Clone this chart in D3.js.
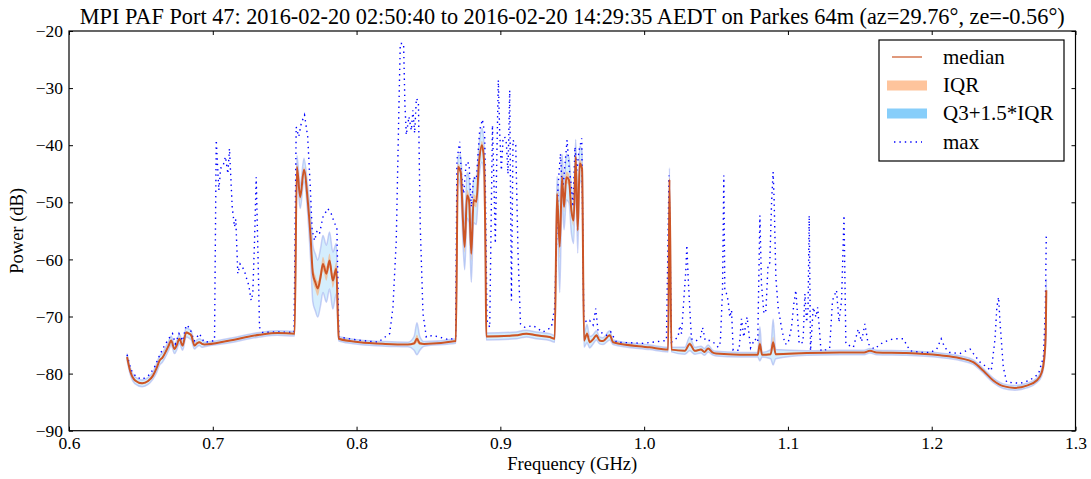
<!DOCTYPE html>
<html>
<head>
<meta charset="utf-8">
<script src="https://d3js.org/d3.v7.min.js"></script>
<style>
  body { margin: 0; background: #fff; }
  text { font-family: "Liberation Serif", "DejaVu Serif", serif; fill: #000; }
</style>
</head>
<body>
<svg id="chart" width="1091" height="479"></svg>
<script>
// ---- data ----
// median / IQR share one frequency grid (GHz)
var medFreq = [
  0.6404, 0.6425, 0.6460, 0.6509, 0.6550, 0.6583, 0.6610, 0.6630, 0.6650, 0.6676,
  0.6695, 0.6710, 0.6734, 0.6750, 0.6768, 0.6790, 0.6815, 0.6835, 0.6850, 0.6873,
  0.6890, 0.6907, 0.6925, 0.6942, 0.7100, 0.7325, 0.7450, 0.7569, 0.7585, 0.7608,
  0.7634, 0.7660, 0.7680, 0.7696, 0.7713, 0.7730, 0.7750, 0.7766, 0.7790, 0.7812,
  0.7835, 0.7859, 0.7870, 0.7876, 0.8021, 0.8200, 0.8357, 0.8400, 0.8420, 0.8440,
  0.8470, 0.8690, 0.8705, 0.8724, 0.8740, 0.8752, 0.8768, 0.8782, 0.8798, 0.8814,
  0.8833, 0.8851, 0.8872, 0.8886, 0.8897, 0.8902, 0.9111, 0.9150, 0.9181, 0.9250,
  0.9343, 0.9378, 0.9394, 0.9413, 0.9429, 0.9443, 0.9459, 0.9477, 0.9494, 0.9510,
  0.9524, 0.9538, 0.9552, 0.9568, 0.9582, 0.9603, 0.9621, 0.9645, 0.9668, 0.9690,
  0.9714, 0.9761, 0.9784, 1.0039, 1.0167, 1.0176, 1.0190, 1.0283, 1.0317, 1.0352,
  1.0395, 1.0420, 1.0445, 1.0475, 1.0500, 1.0666, 1.0790, 1.0805, 1.0820, 1.0880,
  1.0897, 1.0915, 1.1130, 1.1361, 1.1530, 1.1570, 1.1617, 1.1825, 1.2057, 1.2197,
  1.2289, 1.2359, 1.2428, 1.2498, 1.2579, 1.2661, 1.2730, 1.2765, 1.2781, 1.2793,
  1.2797
];
var median = [
  -77.1, -79.5, -81.2, -81.7, -81.3, -80.4, -79.0, -77.7, -77.2, -76.0,
  -75.0, -74.2, -75.7, -75.0, -73.9, -75.1, -72.8, -73.0, -73.3, -75.1,
  -74.7, -74.5, -74.8, -74.9, -74.3, -73.2, -72.9, -73.0, -43.8, -49.1,
  -44.3, -49.6, -56.0, -62.5, -64.0, -65.1, -63.0, -60.8, -62.5, -60.2,
  -63.7, -61.6, -70.0, -73.9, -74.5, -74.8, -74.9, -74.7, -73.9, -74.7,
  -74.8, -74.3, -43.8, -44.7, -53.2, -57.8, -48.8, -49.6, -59.0, -49.6,
  -49.9, -43.2, -40.0, -42.6, -60.0, -73.5, -73.3, -73.1, -73.0, -73.3,
  -73.6, -73.9, -48.5, -57.8, -45.6, -50.8, -45.6, -46.1, -51.4, -53.2,
  -42.0, -54.9, -43.2, -44.1, -74.2, -73.0, -74.5, -74.0, -73.3, -74.2,
  -74.3, -73.3, -74.5, -75.4, -75.8, -46.0, -75.8, -76.0, -74.8, -76.0,
  -75.8, -76.2, -75.6, -76.3, -76.5, -76.7, -76.7, -74.8, -76.7, -76.6,
  -74.5, -76.6, -76.4, -76.3, -76.3, -76.0, -76.3, -76.4, -76.8, -77.3,
  -78.0, -79.5, -81.2, -82.2, -82.5, -82.1, -81.2, -79.8, -77.7, -73.0,
  -65.4
];
// interquartile range (dB) at each grid point
var iqr = [
  0.3, 0.3, 0.3, 0.3, 0.3, 0.3, 0.4, 0.4, 0.4, 0.4,
  0.4, 0.4, 0.4, 0.4, 0.4, 0.4, 0.4, 0.4, 0.4, 0.3,
  0.3, 0.3, 0.3, 0.2, 0.2, 0.2, 0.2, 0.2, 1.0, 1.0,
  1.0, 1.2, 2.0, 2.5, 2.5, 2.5, 2.5, 2.5, 2.5, 2.5,
  2.5, 2.2, 1.0, 0.2, 0.2, 0.2, 0.2, 0.6, 1.4, 0.6,
  0.2, 0.2, 1.0, 1.5, 2.0, 2.0, 2.0, 2.0, 2.5, 2.0,
  2.0, 1.5, 1.5, 1.5, 1.0, 0.3, 0.3, 0.3, 0.3, 0.3,
  0.3, 0.3, 1.5, 4.0, 2.0, 2.0, 2.0, 2.0, 2.0, 2.0,
  1.5, 2.0, 1.5, 1.5, 0.6, 0.8, 0.5, 0.4, 0.4, 0.3,
  0.3, 0.4, 0.2, 0.2, 0.2, 1.0, 0.2, 0.3, 0.6, 0.3,
  0.3, 0.3, 0.3, 0.2, 0.2, 0.2, 0.2, 1.5, 0.2, 0.4,
  2.0, 0.4, 0.2, 0.2, 0.2, 0.2, 0.2, 0.2, 0.2, 0.2,
  0.2, 0.2, 0.2, 0.2, 0.2, 0.2, 0.2, 0.3, 0.4, 0.8,
  1.0
];
// maximum power (dB), own frequency grid
var maxFreq = [
  0.6404, 0.6430, 0.6467, 0.6510, 0.6560, 0.6594, 0.6630, 0.6660, 0.6690, 0.6720,
  0.6740, 0.6765, 0.6790, 0.6815, 0.6840, 0.6870, 0.6907, 0.6940, 0.6980, 0.7012,
  0.7024, 0.7042, 0.7055, 0.7070, 0.7088, 0.7105, 0.7116, 0.7135, 0.7151, 0.7160,
  0.7174, 0.7190, 0.7205, 0.7220, 0.7232, 0.7250, 0.7267, 0.7278, 0.7290, 0.7302,
  0.7315, 0.7325, 0.7348, 0.7450, 0.7565, 0.7571, 0.7580, 0.7598, 0.7615, 0.7638,
  0.7660, 0.7678, 0.7691, 0.7708, 0.7725, 0.7742, 0.7766, 0.7800, 0.7824, 0.7847,
  0.7863, 0.7877, 0.8000, 0.8150, 0.8230, 0.8253, 0.8276, 0.8295, 0.8304, 0.8327,
  0.8336, 0.8346, 0.8364, 0.8381, 0.8392, 0.8404, 0.8416, 0.8430, 0.8443, 0.8462,
  0.8485, 0.8531, 0.8647, 0.8689, 0.8698, 0.8717, 0.8729, 0.8745, 0.8763, 0.8782,
  0.8798, 0.8814, 0.8833, 0.8856, 0.8875, 0.8891, 0.8907, 0.8926, 0.8945, 0.8956,
  0.8965, 0.8975, 0.8986, 0.8995, 0.9007, 0.9018, 0.9030, 0.9042, 0.9053, 0.9065,
  0.9077, 0.9088, 0.9107, 0.9123, 0.9140, 0.9170, 0.9227, 0.9297, 0.9355, 0.9378,
  0.9401, 0.9418, 0.9432, 0.9448, 0.9464, 0.9478, 0.9494, 0.9505, 0.9519, 0.9533,
  0.9547, 0.9566, 0.9580, 0.9599, 0.9621, 0.9645, 0.9663, 0.9679, 0.9738, 0.9768,
  0.9807, 0.9993, 1.0155, 1.0173, 1.0190, 1.0236, 1.0248, 1.0260, 1.0271, 1.0290,
  1.0297, 1.0306, 1.0317, 1.0329, 1.0360, 1.0392, 1.0406, 1.0425, 1.0457, 1.0485,
  1.0515, 1.0530, 1.0545, 1.0554, 1.0561, 1.0573, 1.0584, 1.0596, 1.0608, 1.0619,
  1.0660, 1.0677, 1.0693, 1.0707, 1.0716, 1.0740, 1.0770, 1.0790, 1.0805, 1.0816,
  1.0833, 1.0847, 1.0862, 1.0874, 1.0886, 1.0897, 1.0904, 1.0916, 1.0932, 1.0955,
  1.0979, 1.1000, 1.1025, 1.1041, 1.1055, 1.1065, 1.1078, 1.1105, 1.1118, 1.1130,
  1.1140, 1.1148, 1.1157, 1.1176, 1.1195, 1.1207, 1.1230, 1.1265, 1.1290, 1.1310,
  1.1338, 1.1355, 1.1373, 1.1390, 1.1403, 1.1455, 1.1489, 1.1512, 1.1535, 1.1558,
  1.1600, 1.1663, 1.1733, 1.1802, 1.1849, 1.1920, 1.1990, 1.2035, 1.2066, 1.2090,
  1.2125, 1.2195, 1.2267, 1.2290, 1.2336, 1.2380, 1.2414, 1.2440, 1.2453, 1.2465,
  1.2475, 1.2498, 1.2521, 1.2614, 1.2680, 1.2742, 1.2777, 1.2790, 1.2797
];
var maxPower = [
  -76.7, -79.3, -80.6, -81.0, -80.2, -78.9, -76.8, -75.3, -74.0, -73.0,
  -74.8, -73.0, -74.3, -71.5, -72.0, -74.3, -73.0, -74.5, -74.4, -74.2,
  -39.1, -47.9, -44.0, -43.8, -42.0, -45.0, -40.6, -50.8, -54.3, -53.0,
  -62.5, -60.8, -61.3, -62.0, -63.1, -64.5, -67.2, -66.0, -57.0, -45.6,
  -60.0, -71.9, -72.8, -72.7, -72.8, -58.9, -36.8, -38.5, -36.2, -34.7,
  -38.5, -47.3, -54.9, -56.7, -55.0, -55.5, -52.6, -51.1, -52.0, -53.7,
  -54.3, -73.6, -74.1, -74.5, -73.0, -68.4, -56.7, -32.7, -22.2, -22.2,
  -32.7, -38.2, -35.0, -37.4, -33.9, -37.9, -31.8, -32.4, -54.3, -69.5,
  -73.6, -73.3, -74.1, -73.6, -42.6, -39.4, -45.0, -48.5, -42.9, -43.2,
  -50.8, -45.6, -46.0, -37.4, -35.5, -37.9, -70.7, -71.9, -36.5, -47.3,
  -57.2, -42.6, -28.6, -37.4, -44.4, -39.1, -38.5, -39.7, -45.0, -30.4,
  -67.2, -39.1, -40.0, -59.0, -71.3, -71.9, -71.6, -72.7, -71.9, -68.4,
  -47.3, -41.5, -48.5, -43.8, -39.1, -43.8, -47.3, -50.8, -40.3, -44.4,
  -40.9, -38.8, -70.1, -71.0, -70.7, -71.5, -68.6, -72.5, -73.3, -72.7,
  -74.5, -74.7, -74.2, -45.3, -74.5, -73.6, -71.6, -73.0, -68.9, -61.9,
  -57.5, -63.1, -68.4, -73.9, -74.3, -73.6, -71.9, -74.2, -74.2, -74.6,
  -75.4, -74.5, -65.4, -45.3, -65.4, -66.0, -67.2, -70.1, -68.9, -75.9,
  -75.9, -70.4, -73.6, -71.3, -70.1, -75.5, -73.9, -74.5, -52.3, -64.3,
  -69.5, -68.9, -60.8, -60.6, -50.2, -44.7, -49.6, -63.1, -68.4, -71.9,
  -74.8, -74.8, -71.9, -67.8, -65.4, -69.0, -74.8, -74.5, -66.0, -71.0,
  -68.5, -52.3, -76.0, -68.4, -70.1, -68.4, -76.0, -75.8, -75.6, -67.2,
  -65.4, -71.0, -67.2, -52.3, -74.8, -75.4, -72.2, -74.4, -71.3, -74.8,
  -75.7, -74.5, -73.9, -73.9, -76.0, -76.3, -76.3, -75.7, -73.9, -75.4,
  -76.3, -76.5, -75.7, -76.5, -78.0, -78.8, -79.5, -74.0, -68.4, -66.6,
  -71.0, -78.9, -81.5, -81.7, -81.2, -80.1, -77.1, -69.0, -55.5
];
var xTicks = [0.6, 0.7, 0.8, 0.9, 1.0, 1.1, 1.2, 1.3];
var yTicks = [-90, -80, -70, -60, -50, -40, -30, -20];
var legendLabels = ["median", "IQR", "Q3+1.5*IQR", "max"];
var titleText = "MPI PAF Port 47: 2016-02-20 02:50:40 to 2016-02-20 14:29:35 AEDT on Parkes 64m (az=29.76\u00b0, ze=-0.56\u00b0)";

// ---- layout ----
var pLeft = 69, pRight = 1075.5, pTop = 31, pBottom = 430.7;
var svg = d3.select("#chart");

var x = d3.scaleLinear().domain([0.6, 1.3]).range([pLeft, pRight]);
var y = d3.scaleLinear().domain([-90, -20]).range([pBottom, pTop]);

svg.append("clipPath").attr("id", "plotclip")
  .append("rect")
  .attr("x", pLeft).attr("y", pTop)
  .attr("width", pRight - pLeft).attr("height", pBottom - pTop);

var rows = medFreq.map(function(f, i) {
  var h = iqr[i] / 2;
  return { f: f, med: median[i], q1: median[i] - h, q3: median[i] + h,
           lo: median[i] - h - 1.5 * iqr[i], hi: median[i] + h + 1.5 * iqr[i] };
});
var maxRows = maxFreq.map(function(f, i) { return { f: f, v: maxPower[i] }; });

var plot = svg.append("g").attr("clip-path", "url(#plotclip)");

var fenceArea = d3.area()
  .x(function(d) { return x(d.f); })
  .y0(function(d) { return y(d.lo); })
  .y1(function(d) { return y(d.hi); })
  .curve(d3.curveMonotoneX);
var iqrArea = d3.area()
  .x(function(d) { return x(d.f); })
  .y0(function(d) { return y(d.q1); })
  .y1(function(d) { return y(d.q3); })
  .curve(d3.curveMonotoneX);
var medLine = d3.line()
  .x(function(d) { return x(d.f); })
  .y(function(d) { return y(d.med); })
  .curve(d3.curveMonotoneX);
var maxLine = d3.line()
  .x(function(d) { return x(d.f); })
  .y(function(d) { return y(d.v); });

plot.append("path").datum(rows)
  .attr("d", fenceArea)
  .attr("fill", "#87cefa").attr("fill-opacity", 0.35)
  .attr("stroke", "#8f9cec").attr("stroke-opacity", 0.45).attr("stroke-width", 1.5);

plot.append("path").datum(rows)
  .attr("d", iqrArea)
  .attr("fill", "#ffa560").attr("fill-opacity", 0.55);

plot.append("path").datum(maxRows)
  .attr("d", maxLine)
  .attr("fill", "none")
  .attr("stroke", "#0000ff").attr("stroke-width", 1.4)
  .attr("stroke-dasharray", "1.4,4");

plot.append("path").datum(rows)
  .attr("d", medLine)
  .attr("fill", "none")
  .attr("stroke", "#cc5526").attr("stroke-width", 2)
  .attr("stroke-linejoin", "round");

// ---- axes (ticks inward on all four sides) ----
var fmtX = d3.format(".1f");
var gx = svg.append("g").attr("transform", "translate(0," + pBottom + ")")
  .call(d3.axisBottom(x).tickValues(xTicks).tickFormat(fmtX)
        .tickSizeInner(-4).tickSizeOuter(0).tickPadding(5.5));
var gy = svg.append("g").attr("transform", "translate(" + pLeft + ",0)")
  .call(d3.axisLeft(y).tickValues(yTicks).tickFormat(d3.format("d"))
        .tickSizeInner(-4).tickSizeOuter(0).tickPadding(6));
var gt = svg.append("g").attr("transform", "translate(0," + pTop + ")")
  .call(d3.axisTop(x).tickValues(xTicks).tickFormat("").tickSizeInner(-4).tickSizeOuter(0));
var gr = svg.append("g").attr("transform", "translate(" + pRight + ",0)")
  .call(d3.axisRight(y).tickValues(yTicks).tickFormat("").tickSizeInner(-4).tickSizeOuter(0));

[gx, gy, gt, gr].forEach(function(g) {
  g.select(".domain").remove();
  g.selectAll(".tick line").attr("stroke", "#000");
  g.selectAll("text")
    .attr("font-family", "'Liberation Serif', 'DejaVu Serif', serif")
    .attr("font-size", 17.5).attr("fill", "#000");
});

svg.append("rect")
  .attr("x", pLeft).attr("y", pTop)
  .attr("width", pRight - pLeft).attr("height", pBottom - pTop)
  .attr("fill", "none").attr("stroke", "#000").attr("stroke-width", 1.2);

// ---- labels ----
svg.append("text")
  .attr("x", (pLeft + pRight) / 2).attr("y", 24)
  .attr("text-anchor", "middle").attr("font-size", 22.3)
  .text(titleText);

svg.append("text")
  .attr("x", (pLeft + pRight) / 2).attr("y", 470)
  .attr("text-anchor", "middle").attr("font-size", 18.5)
  .text("Frequency (GHz)");

svg.append("text")
  .attr("transform", "translate(23," + ((pTop + pBottom) / 2) + ") rotate(-90)")
  .attr("text-anchor", "middle").attr("font-size", 18.5)
  .text("Power (dB)");

// ---- legend ----
var lg = svg.append("g");
lg.append("rect")
  .attr("x", 879).attr("y", 40).attr("width", 185).attr("height", 121)
  .attr("fill", "#fff").attr("stroke", "#000").attr("stroke-width", 1.2);

var rowY = [57, 85.5, 113.5, 142];
legendLabels.forEach(function(lab, i) {
  var cy = rowY[i];
  if (i === 0) {
    lg.append("line").attr("x1", 892).attr("x2", 922).attr("y1", cy).attr("y2", cy)
      .attr("stroke", "#cc5526").attr("stroke-width", 1.5).attr("stroke-opacity", 0.8);
  } else if (i === 1) {
    lg.append("rect").attr("x", 887).attr("y", cy - 5).attr("width", 40).attr("height", 10)
      .attr("fill", "#fec49c");
  } else if (i === 2) {
    lg.append("rect").attr("x", 887).attr("y", cy - 5).attr("width", 40).attr("height", 10)
      .attr("fill", "#87cefa");
  } else {
    lg.append("line").attr("x1", 894).attr("x2", 922).attr("y1", cy).attr("y2", cy)
      .attr("stroke", "#0000ff").attr("stroke-width", 1.4).attr("stroke-dasharray", "1.4,4");
  }
  lg.append("text").attr("x", 943).attr("y", cy + 6.5)
    .attr("font-size", 21).text(lab);
});
</script>
</body>
</html>
